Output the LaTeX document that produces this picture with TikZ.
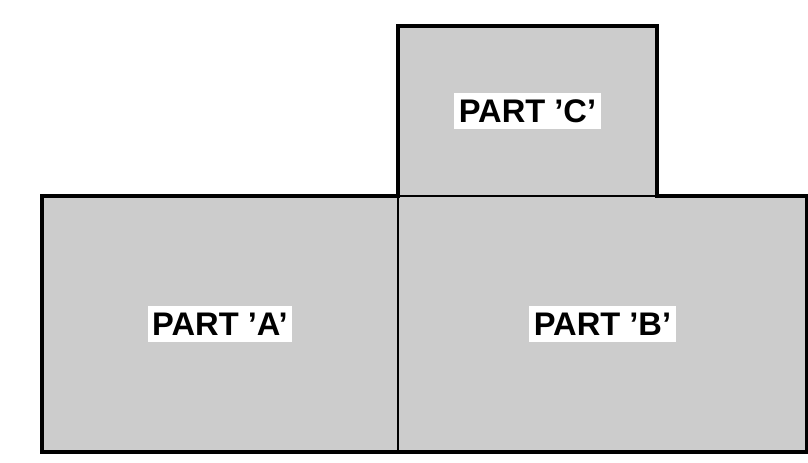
\documentclass[tikz,border=0pt]{standalone}
\usepackage{fontspec}
\setmainfont{Liberation Sans}
\usepackage{tikz}
\usetikzlibrary{positioning}
\definecolor{partgray}{HTML}{CCCCCC}

\begin{document}
\begin{tikzpicture}[
  x=0.75pt, y=-0.75pt,
  part/.style={draw=black, fill=partgray, line width=1.1pt, inner sep=0pt, outer sep=0pt},
  tag/.style={fill=white, inner xsep=3.5pt, inner ysep=5pt, font=\fontsize{24.5}{24.5}\selectfont\bfseries},
  outline/.style={draw=black, line width=2.3pt, line join=miter}
]
  \useasboundingbox (0, 0) rectangle (808, 462);

  % Parts
  \node[part, minimum width=356*0.75pt, minimum height=256*0.75pt] (partA) at (220, 324) {};
  \node[part, minimum width=409*0.75pt, minimum height=256*0.75pt] (partB) at (602.5, 324) {};
  \node[part, minimum width=259*0.75pt, minimum height=170*0.75pt] (partC) at (527.5, 111) {};

  % Outer border
  \draw[outline] (partA.south west) -- (partA.north west) -- (partC.south west)
    -- (partC.north west) -- (partC.north east) -- (partC.south east)
    -- (partB.north east) -- (partB.south east) -- cycle;

  % Labels
  \node[tag] (tagA) at (partA) {PART 'A'};
  \node[tag] (tagB) at (partB) {PART 'B'};
  \node[tag] (tagC) at (partC) {PART 'C'};
\end{tikzpicture}
\end{document}
